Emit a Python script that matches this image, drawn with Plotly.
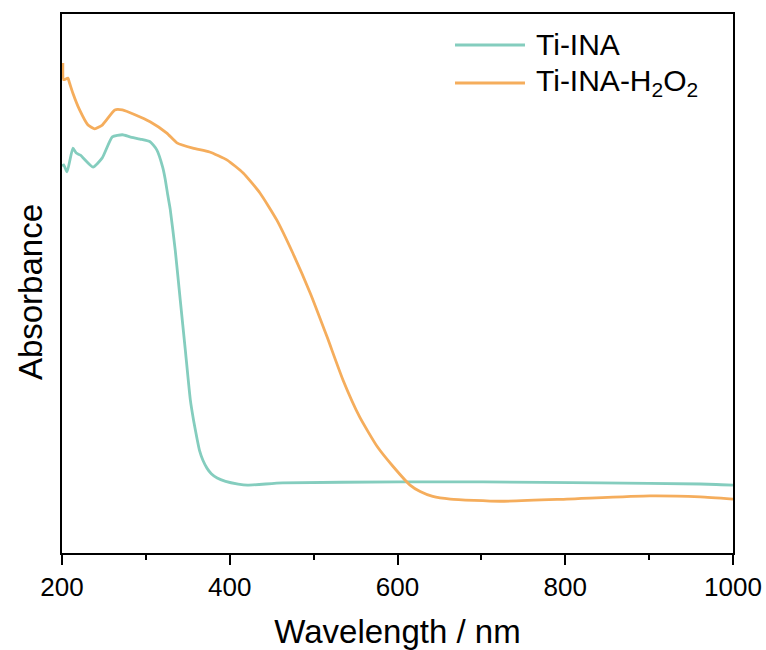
import plotly.graph_objects as go

# Ti-INA
wl_ti = [200, 202, 206, 213, 217, 222, 237, 248, 260, 272, 281, 293, 305, 313, 320, 323, 326, 329,
         335, 341, 347, 353, 357, 361, 364, 368, 373, 378, 385, 395, 410, 421, 463, 603, 663, 702,
         841, 961, 1000]
abs_ti = [0.718, 0.720, 0.707, 0.751, 0.742, 0.738, 0.716, 0.733, 0.772, 0.776, 0.772, 0.768, 0.763,
          0.748, 0.716, 0.694, 0.665, 0.638, 0.562, 0.469, 0.377, 0.284, 0.245, 0.212, 0.190, 0.172,
          0.157, 0.147, 0.139, 0.133, 0.128, 0.126, 0.130, 0.132, 0.132, 0.132, 0.130, 0.128, 0.126]

# Ti-INA-H2O2
wl_h = [201, 202, 207, 209, 213, 221, 231, 239, 248, 263, 272, 287, 305, 325, 337, 356, 376, 397,
        416, 436, 456, 475, 496, 516, 535, 555, 576, 595, 615, 627, 642, 663, 722, 802, 901,
        961, 1000]
abs_h = [0.909, 0.878, 0.881, 0.872, 0.853, 0.822, 0.794, 0.787, 0.794, 0.822, 0.822, 0.813, 0.800,
         0.779, 0.761, 0.751, 0.744, 0.729, 0.705, 0.668, 0.618, 0.557, 0.482, 0.401, 0.321, 0.252,
         0.197, 0.160, 0.126, 0.114, 0.105, 0.100, 0.096, 0.100, 0.106, 0.104, 0.100]

x_ticks = [200, 400, 600, 800, 1000]
series_names = ["Ti-INA", "Ti-INA-H<sub>2</sub>O<sub>2</sub>"]
series_colors = ["#84CDBE", "#F5AD5C"]

FONT = "Arial, Liberation Sans, sans-serif"
LW = 2.8

fig = go.Figure()
fig.add_trace(go.Scatter(x=wl_ti, y=abs_ti, mode="lines", name=series_names[0],
                         line=dict(color=series_colors[0], width=LW, shape="spline", smoothing=0.5)))
fig.add_trace(go.Scatter(x=wl_h, y=abs_h, mode="lines", name=series_names[1],
                         line=dict(color=series_colors[1], width=LW, shape="spline", smoothing=0.5)))

# legend drawn in paper coordinates (longer sample lines like the reference)
leg_y = [0.9425, 0.872]
shapes = []
annotations = []
for name, col, yy in zip(series_names, series_colors, leg_y):
    shapes.append(dict(type="line", xref="paper", yref="paper", x0=0.5857, x1=0.690, y0=yy, y1=yy,
                       line=dict(color=col, width=LW)))
    annotations.append(dict(text=name, xref="paper", yref="paper", x=0.703, y=yy, xanchor="left",
                            yanchor="middle", showarrow=False, font=dict(size=30, family=FONT, color="black")))

# y-axis title
annotations.append(dict(text="Absorbance", xref="paper", yref="paper", x=-0.0477, y=0.484,
                        xanchor="center", yanchor="middle", textangle=-90, showarrow=False,
                        font=dict(size=33, family=FONT, color="black")))

fig.update_layout(
    width=766, height=650,
    margin=dict(l=62, r=33, t=14, b=97),
    plot_bgcolor="white", paper_bgcolor="white",
    font=dict(family=FONT, color="black"),
    showlegend=False,
    shapes=shapes,
    annotations=annotations,
    xaxis=dict(range=[200, 1000], tickvals=x_ticks, ticktext=[str(v) for v in x_ticks],
               ticks="outside", ticklen=10, tickwidth=1.5, tickcolor="black",
               minor=dict(dtick=100, tick0=200, ticks="outside", ticklen=5, tickwidth=1.5, tickcolor="black"),
               showline=True, linecolor="black", linewidth=1.5, mirror=True,
               showgrid=False, zeroline=False, automargin=False,
               tickfont=dict(size=26, family=FONT),
               title=dict(text="Wavelength / nm", font=dict(size=33, family=FONT), standoff=22)),
    yaxis=dict(range=[0, 1], showticklabels=False, ticks="",
               showline=True, linecolor="black", linewidth=1.5, mirror=True,
               showgrid=False, zeroline=False, automargin=False),
)

fig.write_html("out.html")
